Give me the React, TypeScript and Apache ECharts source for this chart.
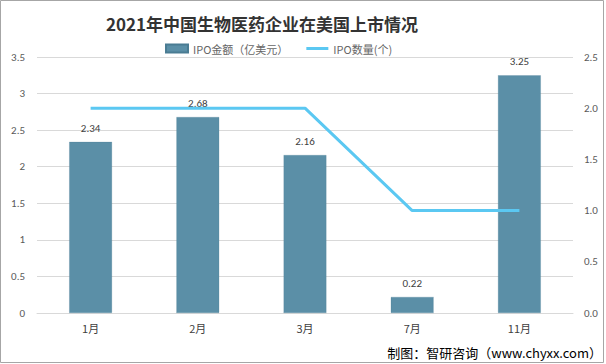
import React, { useEffect, useRef } from "react";
import * as echarts from "echarts";

const categories = ["1月", "2月", "3月", "7月", "11月"];
const ipoAmount = [2.34, 2.68, 2.16, 0.22, 3.25];
const ipoCount = [2, 2, 2, 1, 1];

export default function App() {
  const ref = useRef<HTMLDivElement>(null);
  useEffect(() => {
    const chart = echarts.init(ref.current!, null, { renderer: "svg" });
    chart.setOption({
      animation: false,
      backgroundColor: "#ffffff",
      legend: {
        top: 38,
        left: 160,
        itemWidth: 22,
        itemHeight: 8,
        itemGap: 18,
        textStyle: { fontSize: 11, color: "#666666", fontFamily: "'Noto Sans CJK SC', sans-serif" },
        data: [
          { name: "IPO金额（亿美元）", icon: "rect" },
          { name: "IPO数量(个)", icon: "path://M0,0 L22,0 L22,3 L0,3 Z" },
        ],
      },
      grid: { left: 37, right: 33, top: 57, bottom: 51 },
      xAxis: {
        type: "category",
        data: categories,
        axisLine: { lineStyle: { color: "#d9d9d9" } },
        axisTick: { show: false },
        axisLabel: { color: "#404040", fontSize: 11, margin: 9, fontFamily: "'Noto Sans CJK SC', sans-serif" },
      },
      yAxis: [
        {
          type: "value",
          min: 0,
          max: 3.5,
          interval: 0.5,
          axisLine: { show: false },
          axisTick: { show: false },
          splitLine: { lineStyle: { color: "#d9d9d9" } },
          axisLabel: { color: "#595959", fontSize: 11, margin: 12, fontFamily: "Calibri, 'Liberation Sans', sans-serif" },
        },
        {
          type: "value",
          min: 0,
          max: 2.5,
          interval: 0.5,
          axisLine: { show: false },
          axisTick: { show: false },
          splitLine: { show: false },
          axisLabel: {
            color: "#595959",
            fontSize: 11,
            margin: 11,
            fontFamily: "Calibri, 'Liberation Sans', sans-serif",
            formatter: (v: number) => v.toFixed(1),
          },
        },
      ],
      series: [
        {
          name: "IPO金额（亿美元）",
          type: "bar",
          data: ipoAmount,
          barWidth: "40%",
          itemStyle: { color: "#5b8fa7", borderColor: "#4a7c93", borderWidth: 0.5, borderType: "dotted" },
          label: {
            show: true,
            position: "top",
            distance: 8,
            color: "#404040",
            fontSize: 11,
            fontFamily: "Calibri, 'Liberation Sans', sans-serif",
          },
        },
        {
          name: "IPO数量(个)",
          type: "line",
          yAxisIndex: 1,
          data: ipoCount,
          symbol: "none",
          lineStyle: { color: "#5bc8f2", width: 3 },
          itemStyle: { color: "#5bc8f2" },
        },
      ],
      graphic: [
        {
          type: "rect",
          shape: { x: 0.5, y: 0.5, width: 603, height: 362 },
          style: { fill: "none", stroke: "#a6a6a6", lineWidth: 1 },
          silent: true,
        },
        {
          type: "text",
          x: 262,
          y: 23,
          style: {
            text: "2021年中国生物医药企业在美国上市情况",
            fill: "#333333",
            fontSize: 17,
            fontWeight: "bold",
            fontFamily: "'Noto Sans CJK SC', serif",
            align: "center",
            verticalAlign: "middle",
          },
        },
        {
          type: "text",
          right: 4,
          bottom: 5,
          style: {
            text: "制图：智研咨询（www.chyxx.com）",
            fill: "#000000",
            fontSize: 13,
            fontFamily: "'Noto Sans CJK SC', sans-serif",
          },
        },
      ],
    });
    return () => chart.dispose();
  }, []);
  return (
    <div
      ref={ref}
      style={{ position: "fixed", left: 0, top: 0, width: 606, height: 364 }}
    />
  );
}
